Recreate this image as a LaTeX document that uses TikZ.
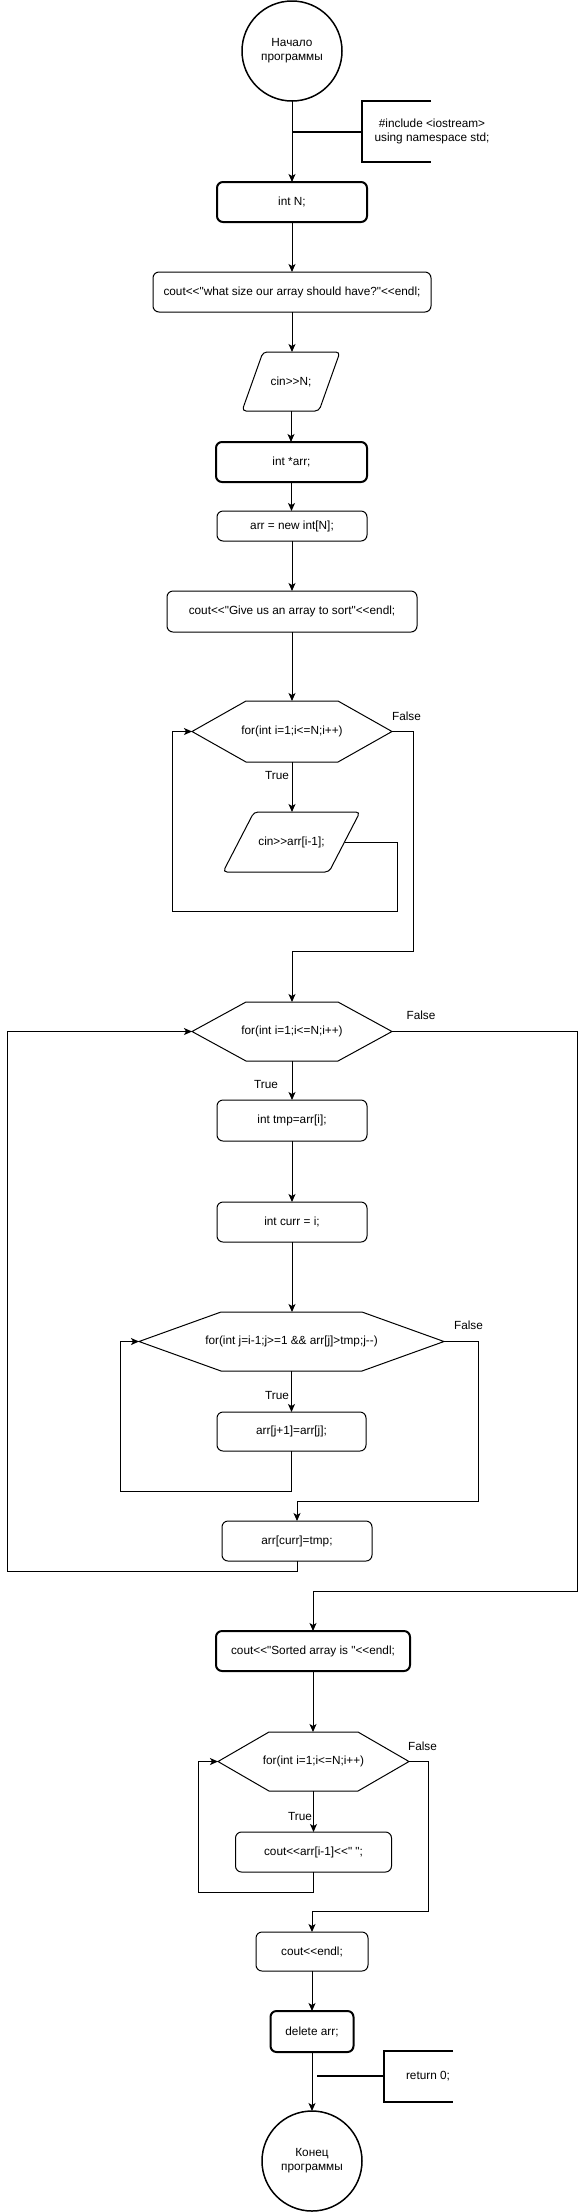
\documentclass[tikz,border=0pt]{standalone}
\usepackage{fontspec}
\newfontfamily\fnt{Liberation Sans}
\usetikzlibrary{arrows.meta,calc}
\newcommand{\ltlt}{<\kern0pt<}
\newcommand{\gtgt}{>\kern0pt>}
\newcommand{\dashdash}{-\kern0pt-}
\newcommand{\hexpath}[2]{\draw[outl] (#1.west) -- ($(#1.north west)+(#2,0)$) -- ($(#1.north east)+(-#2,0)$) -- (#1.east) -- ($(#1.south east)+(-#2,0)$) -- ($(#1.south west)+(#2,0)$) -- cycle;}
\newcommand{\parapath}[2]{\draw[outl,rounded corners=4pt] (#1.south west) -- ($(#1.north west)+(#2,0)$) -- (#1.north east) -- ($(#1.south east)+(-#2,0)$) -- cycle;}
\begin{document}
\begin{tikzpicture}[x=1pt,y=-1pt,
  every node/.style={inner sep=0pt,outer sep=0pt,font=\fnt\fontsize{11.8}{14}\selectfont,align=center},
  proc/.style={draw,line width=1pt,rounded corners=6pt},
  bproc/.style={draw,line width=2pt,rounded corners=6pt},
  term/.style={draw,circle,line width=1.5pt,minimum size=100pt},
  outl/.style={line width=1pt},
  flow/.style={line width=1pt,-{Stealth[length=8pt,width=7pt,inset=2pt]}},
  annot/.style={line width=1.5pt}
]
\useasboundingbox (0,0) rectangle (586,2212);

% nodes
\node[term] (start) at (292,51) {Начало\\программы};
\node[bproc,minimum width=150pt,minimum height=40pt] (intN) at (292,202) {int N;};
\node[proc,minimum width=278pt,minimum height=40pt] (c1) at (292,292) {cout\ltlt"what size our array should have?"\ltlt endl;};
\node[minimum width=98pt,minimum height=59pt] (p1) at (291,381.5) {cin\gtgt N;};
\node[bproc,minimum width=151pt,minimum height=40pt] (intArr) at (291.5,462) {int *arr;};
\node[proc,minimum width=150pt,minimum height=30pt] (newArr) at (292,526) {arr = new int[N];};
\node[proc,minimum width=250pt,minimum height=41pt] (c2) at (292,611.5) {cout\ltlt"Give us an array to sort"\ltlt endl;};
\node[minimum width=200pt,minimum height=61pt] (h1) at (292,731.5) {for(int i=1;i<=N;i++)};
\node[minimum width=137pt,minimum height=60pt] (p2) at (291.5,842) {cin\gtgt arr[i-1];};
\node[minimum width=200pt,minimum height=59pt] (h2) at (292,1031.5) {for(int i=1;i<=N;i++)};
\node[proc,minimum width=150pt,minimum height=41pt] (tmp) at (292,1120.5) {int tmp=arr[i];};
\node[proc,minimum width=150pt,minimum height=40pt] (curr) at (292,1222) {int curr = i;};
\node[minimum width=305pt,minimum height=59pt] (h3) at (291.5,1341.5) {for(int j=i-1;j>=1 \&\& arr[j]>tmp;j\dashdash)};
\node[proc,minimum width=149pt,minimum height=39pt] (shift) at (291.5,1431.5) {arr[j+1]=arr[j];};
\node[proc,minimum width=150pt,minimum height=40pt] (acurr) at (297,1541) {arr[curr]=tmp;};
\node[bproc,minimum width=194pt,minimum height=40pt] (sorted) at (313,1651) {cout\ltlt"Sorted array is "\ltlt endl;};
\node[minimum width=191pt,minimum height=59pt] (h4) at (313.5,1761.5) {for(int i=1;i<=N;i++)};
\node[proc,minimum width=156pt,minimum height=40pt] (pr) at (313.5,1852) {cout\ltlt arr[i-1]\ltlt" ";};
\node[proc,minimum width=112pt,minimum height=39pt] (endl) at (312,1951.5) {cout\ltlt endl;};
\node[bproc,minimum width=83pt,minimum height=41pt] (del) at (312,2031.5) {delete arr;};
\node[term] (stop) at (312,2161) {Конец\\программы};

% shapes drawn around ghost nodes
\parapath{p1}{21}
\parapath{p2}{31}
\hexpath{h1}{54}
\hexpath{h2}{54}
\hexpath{h3}{82}
\hexpath{h4}{51}

% annotations
\coordinate (a1) at (292,132);
\coordinate (a1e) at (362,132);
\draw[annot] (a1) -- (a1e);
\draw[annot] (431,101) -- (362,101) -- (362,162) -- (431,162);
\node (inc) at (432,131) {\#include <iostream>\\using namespace std;};

\coordinate (a2) at (317,2076);
\coordinate (a2e) at (384,2076);
\draw[annot] (a2) -- (a2e);
\draw[annot] (453,2051) -- (384,2051) -- (384,2102) -- (453,2102);
\node (ret) at (428,2076) {return 0;};

% labels
\node (t1) at (277,775) {True};
\node (f1) at (406.5,716) {False};
\node (f2) at (421,1015) {False};
\node (t2) at (266,1084) {True};
\node (t3) at (277,1395) {True};
\node (f3) at (468.5,1325) {False};
\node (t4) at (300,1816) {True};
\node (f4) at (422.5,1746) {False};

% connectors
\draw[flow] (start.south) -- (start.south |- intN.north);
\draw[flow] (intN.south) -- (intN.south |- c1.north);
\draw[flow] (c1.south) -- (c1.south |- p1.north);
\draw[flow] (p1.south) -- (p1.south |- intArr.north);
\draw[flow] (intArr.south) -- (intArr.south |- newArr.north);
\draw[flow] (newArr.south) -- (newArr.south |- c2.north);
\draw[flow] (c2.south) -- (c2.south |- h1.north);
\draw[flow] (h1.south) -- (h1.south |- p2.north);
\draw[flow] ($(p2.east)+(-15.5,0)$) -| (397,911) -| ($(h1.west)+(-20,0)$) -- (h1.west);
\draw[flow] (h1.east) -- ++(21,0) -- ++(0,219.5) -| (h2.north);
\draw[flow] (h2.south) -- (h2.south |- tmp.north);
\draw[flow] (tmp.south) -- (tmp.south |- curr.north);
\draw[flow] (curr.south) -- (curr.south |- h3.north);
\draw[flow] (h3.south) -- (h3.south |- shift.north);
\draw[flow] (shift.south) -- ++(0,40) -| ($(h3.west)+(-19,0)$) -- (h3.west);
\draw[flow] (h3.east) -- ++(34,0) -- ++(0,160) -| (acurr.north);
\draw[flow] (acurr.south) -- ++(0,10) -| ($(h2.west)+(-185,0)$) -- (h2.west);
\draw[flow] (h2.east) -- ++(185,0) -- ++(0,559.5) -| (sorted.north);
\draw[flow] (sorted.south) -- (sorted.south |- h4.north);
\draw[flow] (h4.south) -- (h4.south |- pr.north);
\draw[flow] (pr.south) -- ++(0,20) -| ($(h4.west)+(-20,0)$) -- (h4.west);
\draw[flow] (h4.east) -- ++(19,0) -- ++(0,149.5) -| (endl.north);
\draw[flow] (endl.south) -- (endl.south |- del.north);
\draw[flow] (del.south) -- (del.south |- stop.north);
\end{tikzpicture}
\end{document}
